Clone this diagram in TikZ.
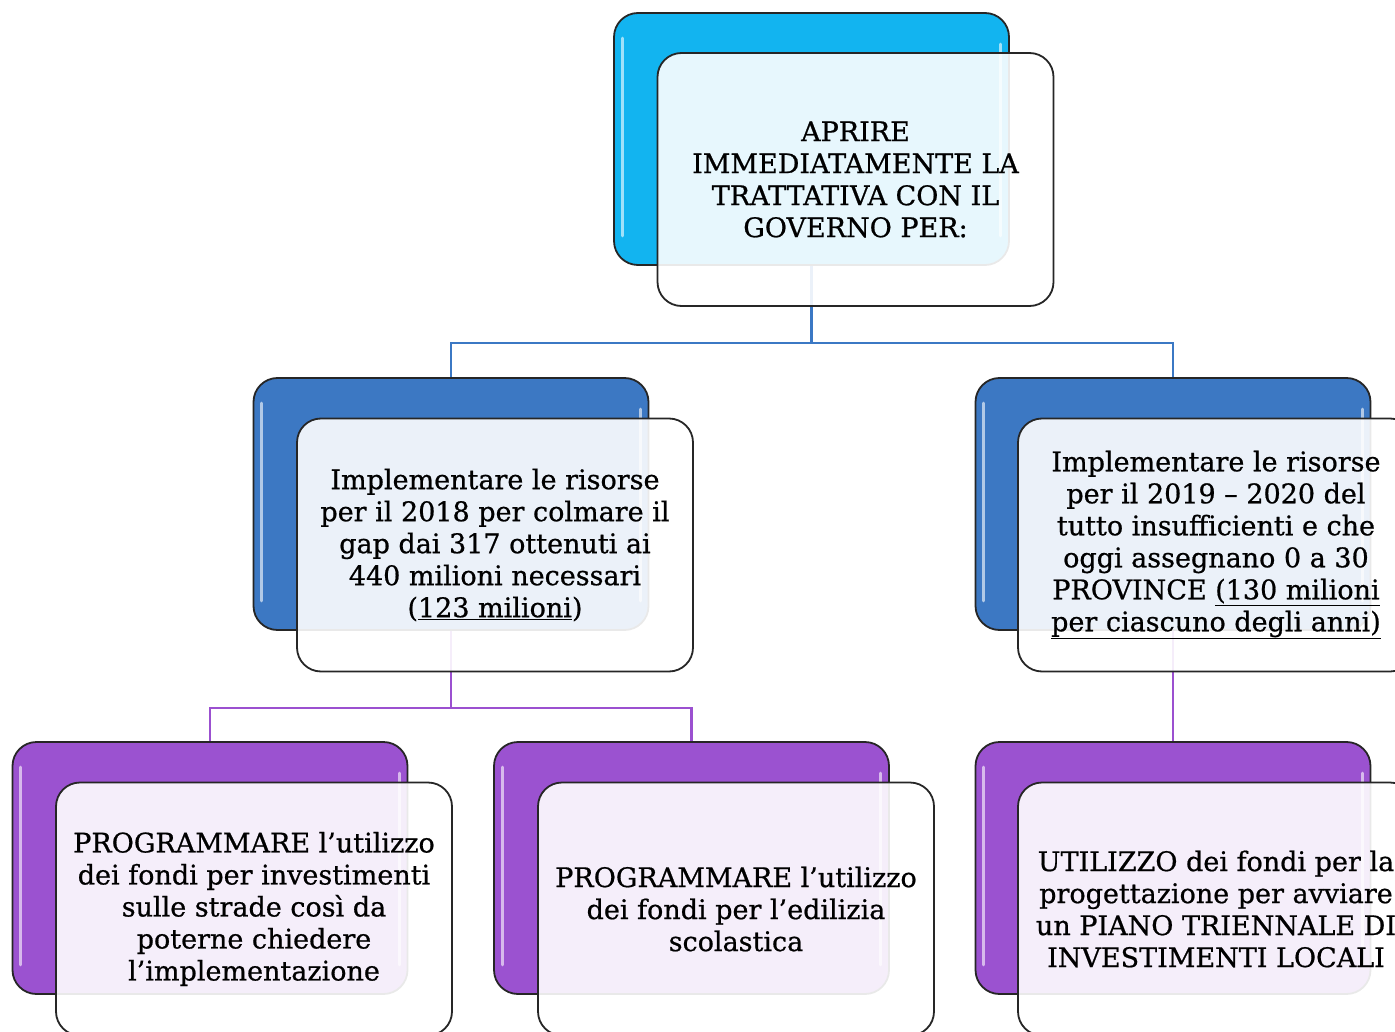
\documentclass[tikz,border=0pt]{standalone}
\usepackage{fontspec}
\setmainfont{DejaVu Serif}[BoldFont={DejaVu Serif},BoldFeatures={FakeBold=0.7}]
\definecolor{topc}{RGB}{18,180,240}
\definecolor{midc}{RGB}{60,120,195}
\definecolor{purc}{RGB}{155,82,208}
\definecolor{bline}{RGB}{59,120,196}
\definecolor{pline}{RGB}{155,80,208}
\begin{document}
\begin{tikzpicture}[x=1pt,y=-1pt,
  backbox/.style={draw=black!85, line width=1.8pt, rounded corners=24pt,
    minimum width=395pt, minimum height=252pt, inner sep=0pt},
  frontbox/.style={draw=black!85, line width=1.8pt, rounded corners=24pt,
    minimum width=396pt, minimum height=253pt, inner sep=0pt,
    fill=white, fill opacity=0.9, text opacity=1, align=center,
    font=\fontsize{27}{32}\selectfont\bfseries},
  gloss/.style={white, opacity=0.6, line width=3pt, line cap=round},
  conn/.style={line width=2.4pt}
]
\useasboundingbox (0,0) rectangle (1395,1032);
% back boxes
\node[backbox, fill=topc] (tb) at (811.5,139) {};
\node[backbox, fill=midc] (mlb) at (451,504) {};
\node[backbox, fill=midc] (mrb) at (1173,504) {};
\node[backbox, fill=purc] (blb) at (210,868) {};
\node[backbox, fill=purc] (bmb) at (691.5,868) {};
\node[backbox, fill=purc] (brb) at (1173,868) {};
% gloss highlights
\foreach \n in {tb,mlb,mrb,blb,bmb,brb}{
  \draw[gloss] ([shift={(9pt,-26pt)}]\n.north west) -- ([shift={(9pt,30pt)}]\n.south west);
  \draw[gloss] ([shift={(-9pt,-32pt)}]\n.north east) -- ([shift={(-9pt,30pt)}]\n.south east);
}
% connectors
\draw[conn, bline] (tb.south) -- ++(0,77) -| (mlb.north);
\draw[conn, bline] (tb.south) -- ++(0,77) -| (mrb.north);
\draw[conn, pline] (mlb.south) -- ++(0,77) -| (blb.north);
\draw[conn, pline] (mlb.south) -- ++(0,77) -| (bmb.north);
\draw[conn, pline] (mrb.south) -- (brb.north);
% front boxes
\node[frontbox] (tf) at (855.5,179.5) {APRIRE\\IMMEDIATAMENTE LA\\TRATTATIVA CON IL\\GOVERNO PER:};
\node[frontbox] (mlf) at (495,545) {Implementare le risorse\\per il 2018 per colmare il\\gap dai 317 ottenuti ai\\440 milioni necessari\\(\underline{123 milioni})};
\node[frontbox] (mrf) at (1216,545) {Implementare le risorse\\per il 2019 – 2020 del\\tutto insufficienti e che\\oggi assegnano 0 a 30\\PROVINCE \underline{(130 milioni}\\\underline{per ciascuno degli anni)}};
\node[frontbox] (blf) at (254,909) {PROGRAMMARE l’utilizzo\\dei fondi per investimenti\\sulle strade così da\\poterne chiedere\\l’implementazione};
\node[frontbox] (bmf) at (736,909) {PROGRAMMARE l’utilizzo\\dei fondi per l’edilizia\\scolastica};
\node[frontbox] (brf) at (1216,909) {UTILIZZO dei fondi per la\\progettazione per avviare\\un PIANO TRIENNALE DI\\INVESTIMENTI LOCALI};
\end{tikzpicture}
\end{document}
